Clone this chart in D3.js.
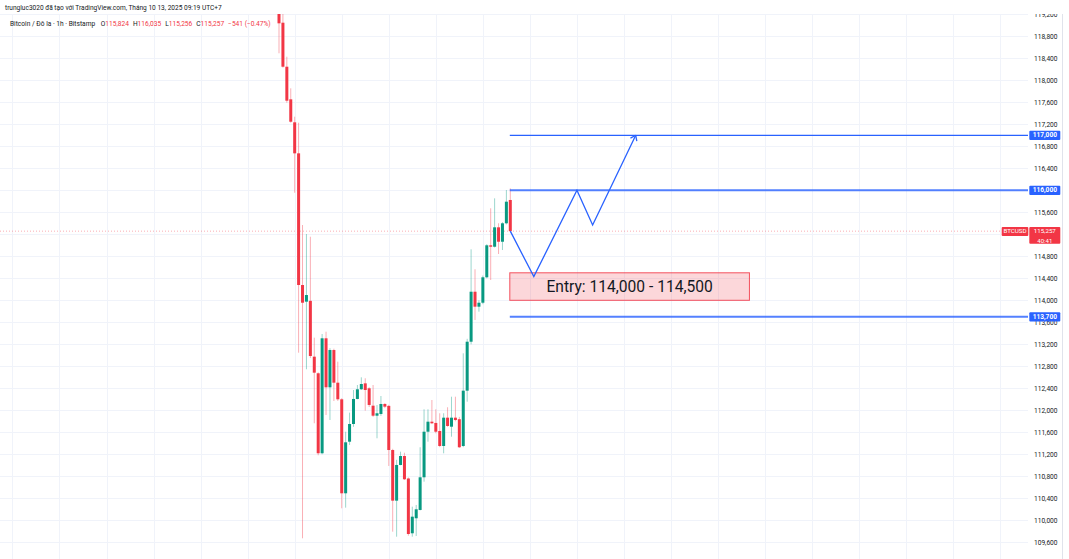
<!DOCTYPE html>
<html><head><meta charset="utf-8">
<script src="https://cdn.jsdelivr.net/npm/d3@7"></script>
<style>body{margin:0;background:#fff;} svg{display:block;font-family:Roboto,"Liberation Sans",sans-serif;}</style>
</head><body>
<svg id="c" width="1069" height="559"></svg>
<script>
// ---- data (BTCUSD, 1h, Bitstamp) ----
const candleOpen  = [119300,119047,118247,117654,117236,116672,114278,113975,113990,112975,112673,111219,113309,112418,113096,112502,112200,110491,111429,111751,112206,112382,112490,112400,112084,111902,111933,112115,112080,111278,110357,111006,111169,110760,109764,110037,110188,110782,111611,111793,111770,111624,111351,111866,111702,111866,111838,111351,112357,113247,114156,113884,113956,114418,115000,114974,115327,115065,115400,115824];
const candleHigh  = [119400,119300,118429,117854,117338,117229,115369,115205,115156,113320,112690,113387,113429,113130,113120,112884,112220,111611,111957,112369,112460,112600,112582,112420,112460,112096,112260,112130,112100,111300,111100,111248,111229,110780,110248,110279,111328,112018,112018,112187,112018,111946,111946,112055,112247,112247,111880,113036,113300,114927,114564,114000,114450,115020,115673,115854,115400,115420,116005,116035];
const candleLow   = [118491,118230,117592,117230,115956,113047,109673,112746,112950,111764,111182,111200,111915,111824,112169,112170,110218,110230,111370,111700,112200,112370,111993,112060,111880,111491,111900,112040,110988,109793,109702,111000,110733,109720,109702,109715,110180,110702,111429,111750,111582,111330,111218,111700,111520,111800,111315,111330,112157,113200,113642,113793,113930,114400,114369,114960,114842,114914,115380,115256];
const candleClose = [119036,118247,117629,117247,116672,114278,113956,114096,112987,112684,111219,113309,112418,113096,112502,112200,110491,111418,111751,112206,112382,112478,112369,112097,111902,111946,112115,112066,111278,110357,111006,111169,110746,109751,110066,110200,110782,111611,111793,111764,111611,111351,111866,111715,111866,111824,111328,112357,113247,114156,113884,113956,114418,115000,114974,115327,115065,115400,115793,115257];
const priceTicks = [109600,110000,110400,110800,111200,111600,112000,112400,112800,113200,113600,114000,114400,114800,115200,115600,116000,116400,116800,117200,117600,118000,118400,118800,119200];
const levelPrices = [117000, 116000, 113700];
const levelWidths = [1.3, 2, 2];
const entryRange = [114000, 114500];
const entryLabel = "Entry: 114,000 - 114,500";
const pathIndex = [59, 65, 76, 80, 91];
const pathPrice = [115257, 114430, 116000, 115370, 117000];
const lastPrice = 115257;
const countdown = "40:41";
const symbolName = "BTCUSD";
const headerLine1 = "trungluc3020 đã tạo với TradingView.com, Tháng 10 13, 2025 09:19 UTC+7";
const headerTitle = "Bitcoin / Đô la · 1h · Bitstamp";
const headerOHLC = [["O","115,824"],["H","116,035"],["L","115,256"],["C","115,257"]];
const headerChange = "−541 (−0.47%)";

// ---- layout ----
const W = 1069, H = 559;
const paneRight = 1028, paneTop = 14;
const UP = "#089981", DOWN = "#f23645", BLUE = "#2962ff";
const svg = d3.select("#c");

const y = d3.scaleLinear().domain([109600, 119200]).range([542.3, 14.3]);
const x = d3.scaleLinear().domain([0, 59]).range([279, 510.3]);

const defs = svg.append("defs");
defs.append("clipPath").attr("id","pane")
  .append("rect").attr("x",0).attr("y",paneTop).attr("width",paneRight).attr("height",H-paneTop);
defs.append("clipPath").attr("id","axclip")
  .append("rect").attr("x",0).attr("y",paneTop).attr("width",40).attr("height",H);

const pane = svg.append("g").attr("clip-path","url(#pane)");

// grid
const vIdx = d3.range(-70, 200, 12).map(k => k + 2);
pane.append("g").selectAll("line").data(vIdx).join("line")
  .attr("x1", d => Math.round(x(d)) + 0.5).attr("x2", d => Math.round(x(d)) + 0.5)
  .attr("y1", paneTop).attr("y2", H).attr("stroke", "#f0f3fa").attr("stroke-width", 1);
pane.append("g").selectAll("line").data(priceTicks).join("line")
  .attr("x1", 0).attr("x2", paneRight)
  .attr("y1", d => Math.round(y(d)) + 0.5).attr("y2", d => Math.round(y(d)) + 0.5)
  .attr("stroke", "#f0f3fa").attr("stroke-width", 1);

// last price dotted line
pane.append("line").attr("x1",0).attr("x2",paneRight)
  .attr("y1", y(lastPrice)).attr("y2", y(lastPrice))
  .attr("stroke", DOWN).attr("stroke-opacity",0.4).attr("stroke-width",1).attr("stroke-dasharray","1,2");

// candles
const candles = d3.range(candleOpen.length).map(i => ({i, o:candleOpen[i], h:candleHigh[i], l:candleLow[i], c:candleClose[i]}));
const cg = pane.append("g");
cg.selectAll("line.w").data(candles).join("line").attr("class","w")
  .attr("x1", d => x(d.i)).attr("x2", d => x(d.i))
  .attr("y1", d => y(d.h)).attr("y2", d => y(d.l))
  .attr("stroke", d => d.c >= d.o ? UP : DOWN).attr("stroke-opacity",0.4).attr("stroke-width",1);
cg.selectAll("rect").data(candles).join("rect")
  .attr("x", d => x(d.i) - 1.5).attr("width", 3)
  .attr("y", d => y(Math.max(d.o,d.c)))
  .attr("height", d => Math.max(1, Math.abs(y(d.o) - y(d.c))))
  .attr("fill", d => d.c >= d.o ? UP : DOWN);

// levels
const lastIdx = candleOpen.length - 1;
pane.append("g").selectAll("line").data(levelPrices).join("line")
  .attr("x1", x(lastIdx) - 0.5).attr("x2", paneRight)
  .attr("y1", d => y(d)).attr("y2", d => y(d))
  .attr("stroke", BLUE).attr("stroke-opacity", (d,i) => i === 0 ? 1 : 0.8)
  .attr("stroke-width", (d,i) => levelWidths[i]);

// entry box
const ex0 = x(lastIdx) - 0.5, ex1 = x(120);
pane.append("rect").attr("x", ex0).attr("y", y(entryRange[1]))
  .attr("width", ex1 - ex0).attr("height", y(entryRange[0]) - y(entryRange[1]))
  .attr("fill", "rgba(242,54,69,0.2)").attr("stroke", DOWN).attr("stroke-opacity",0.85).attr("stroke-width",1);
pane.append("text").attr("x", (ex0+ex1)/2).attr("y", (y(entryRange[0]) + y(entryRange[1]))/2)
  .attr("text-anchor","middle").attr("dominant-baseline","central")
  .attr("font-size", 15.6).attr("fill", "#131722").text(entryLabel);

// projected path
const pts = pathIndex.map((d,i) => [x(d), y(pathPrice[i])]);
pane.append("path").attr("d", d3.line()(pts)).attr("fill","none")
  .attr("stroke", BLUE).attr("stroke-width",1.3).attr("stroke-linejoin","miter");
const [tx, ty] = pts[pts.length-1], [px, py] = pts[pts.length-2];
const ang = Math.atan2(ty - py, tx - px);
[Math.PI*0.8, -Math.PI*0.8].forEach(a => {
  pane.append("line").attr("x1",tx).attr("y1",ty)
    .attr("x2", tx + 6*Math.cos(ang + a)).attr("y2", ty + 6*Math.sin(ang + a))
    .attr("stroke", BLUE).attr("stroke-width",1.3);
});

// price axis (ticks hidden behind the last-price label are not drawn)
const ly = y(lastPrice);
const shownTicks = priceTicks.filter(d => !(y(d) > ly - 5 && y(d) < ly + 14));
const axis = d3.axisRight(y).tickValues(shownTicks).tickSize(0).tickPadding(6).tickFormat(d3.format(","));
const ag = svg.append("g").attr("transform", `translate(${paneRight},0)`).call(axis);
ag.attr("clip-path","url(#axclip)");
ag.select(".domain").remove();
ag.selectAll("text").attr("font-size", 6.6).attr("fill", "#131722").attr("font-family","Roboto,sans-serif");
svg.append("line").attr("x1",1062.5).attr("x2",1062.5).attr("y1",paneTop).attr("y2",H).attr("stroke","#e0e3eb");

// level labels
const fmt = d3.format(",");
const lab = svg.append("g").selectAll("g").data(levelPrices).join("g")
  .attr("transform", d => `translate(${paneRight+1.3},${y(d)})`);
lab.append("rect").attr("x",0).attr("y",-4.6).attr("width",31).attr("height",9.2).attr("rx",1).attr("fill",BLUE);
lab.append("text").attr("x",15.5).attr("y",0).attr("text-anchor","middle").attr("dominant-baseline","central")
  .attr("font-size",6.6).attr("font-weight","bold").attr("fill","#fff").text(d => fmt(d));

// last price labels
svg.append("rect").attr("x",1001.7).attr("y",ly-4.2).attr("width",26.6).attr("height",9).attr("rx",1).attr("fill",DOWN);
svg.append("text").attr("x",1015).attr("y",ly+0.3).attr("text-anchor","middle").attr("dominant-baseline","central")
  .attr("font-size",6.2).attr("fill","#fff").text(symbolName);
svg.append("rect").attr("x",paneRight+1.3).attr("y",ly-4.2).attr("width",31).attr("height",16.8).attr("rx",1).attr("fill",DOWN);
svg.append("text").attr("x",paneRight+16.8).attr("y",ly+0.1).attr("text-anchor","middle").attr("dominant-baseline","central")
  .attr("font-size",6.2).attr("fill","#fff").text(fmt(lastPrice));
svg.append("text").attr("x",paneRight+16.8).attr("y",ly+9.2).attr("text-anchor","middle").attr("dominant-baseline","central")
  .attr("font-size",6.0).attr("fill","#fff").text(countdown);

// header
svg.append("text").attr("x",5).attr("y",9.5).attr("font-size",6.55).attr("fill","#131722").text(headerLine1);
const h2 = svg.append("text").attr("x",10).attr("y",25.5).attr("font-size",6.6).attr("fill","#131722");
h2.append("tspan").text(headerTitle + "  ");
headerOHLC.forEach(([k,v]) => {
  h2.append("tspan").attr("dx",4).text(k);
  h2.append("tspan").attr("fill",DOWN).text(v);
});
h2.append("tspan").attr("dx",4).attr("fill",DOWN).text(headerChange);
</script>
</body></html>
